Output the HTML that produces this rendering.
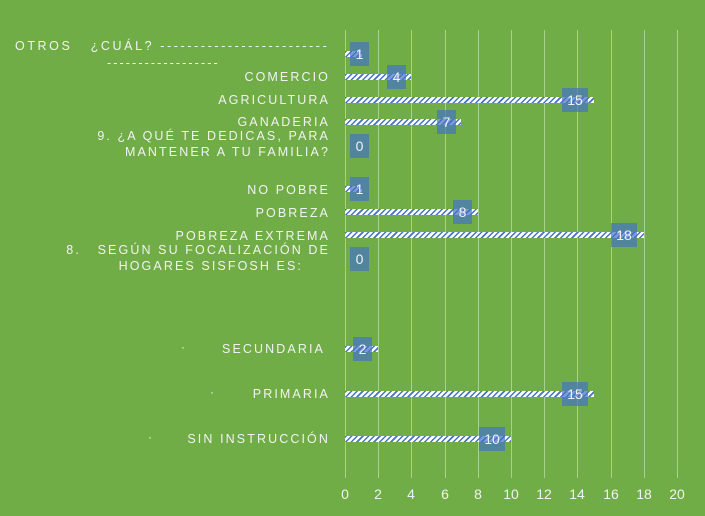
<!DOCTYPE html>
<html><head><meta charset="utf-8"><style>
body{margin:0;width:705px;height:516px;background:#70ad47;position:relative;overflow:hidden;font-family:"Liberation Sans",sans-serif;color:#f2f2f2}
.g{position:absolute;top:30px;height:448px;width:1px;background:#a9d18e}
.t{position:absolute;top:486px;font-size:14px;width:30px;text-align:center}
.l{position:absolute;right:375px;font-size:12.5px;letter-spacing:2.1px;text-align:right;white-space:nowrap;line-height:16px}
.d{position:absolute;font-size:12px}
.b{position:absolute;left:345px;height:6px;background:repeating-linear-gradient(135deg,#4472c4 0 1.5px,#fff 1.5px 4px)}
.v{position:absolute;width:19px;height:24px;background:rgba(68,114,196,.7);font-size:14px;text-align:center;line-height:24px}
</style></head><body>
<div class="g" style="left:345px"></div><div class="g" style="left:378px"></div><div class="g" style="left:411px"></div><div class="g" style="left:445px"></div><div class="g" style="left:478px"></div><div class="g" style="left:511px"></div><div class="g" style="left:544px"></div><div class="g" style="left:577px"></div><div class="g" style="left:611px"></div><div class="g" style="left:644px"></div><div class="g" style="left:677px"></div>
<div class="t" style="left:330px">0</div><div class="t" style="left:363px">2</div><div class="t" style="left:396px">4</div><div class="t" style="left:430px">6</div><div class="t" style="left:463px">8</div><div class="t" style="left:496px">10</div><div class="t" style="left:529px">12</div><div class="t" style="left:562px">14</div><div class="t" style="left:596px">16</div><div class="t" style="left:629px">18</div><div class="t" style="left:662px">20</div>

<div class="l" style="left:15px;right:auto;top:38px;text-align:left;letter-spacing:2.6px">OTROS &nbsp; ¿CUÁL? -------------------------</div>
<div class="l" style="left:107px;right:auto;top:55px;text-align:left">------------------</div>
<div class="l" style="top:69px">COMERCIO</div>
<div class="l" style="top:92px">AGRICULTURA</div>
<div class="l" style="top:114px">GANADERIA</div>
<div class="l" style="top:128px">9. ¿A QUÉ TE DEDICAS, PARA<br>MANTENER A TU FAMILIA?</div>
<div class="l" style="top:182px">NO POBRE</div>
<div class="l" style="top:205px">POBREZA</div>
<div class="l" style="top:228px">POBREZA EXTREMA</div>
<div class="l" style="top:242px">8.&nbsp;&nbsp; SEGÚN SU FOCALIZACIÓN DE</div>
<div class="l" style="top:258px;right:402px">HOGARES SISFOSH ES:</div>
<div class="d" style="left:181px;top:340px">·</div><div class="l" style="top:341px;right:380px">SECUNDARIA</div>
<div class="d" style="left:210px;top:385px">·</div><div class="l" style="top:386px">PRIMARIA</div>
<div class="d" style="left:148px;top:430px">·</div><div class="l" style="top:431px">SIN INSTRUCCIÓN</div>

<div class="b" style="top:51px;width:17px"></div><div class="v" style="left:350px;top:42px">1</div>
<div class="b" style="top:74px;width:66px"></div><div class="v" style="left:387px;top:65px">4</div>
<div class="b" style="top:97px;width:249px"></div><div class="v" style="left:562px;top:88px;width:26px">15</div>
<div class="b" style="top:119px;width:116px"></div><div class="v" style="left:437px;top:110px">7</div>
<div class="v" style="left:350px;top:134px">0</div>
<div class="b" style="top:186px;width:17px"></div><div class="v" style="left:350px;top:177px">1</div>
<div class="b" style="top:209px;width:133px"></div><div class="v" style="left:453px;top:200px">8</div>
<div class="b" style="top:232px;width:299px"></div><div class="v" style="left:611px;top:223px;width:26px">18</div>
<div class="v" style="left:350px;top:247px">0</div>
<div class="b" style="top:346px;width:33px"></div><div class="v" style="left:353px;top:337px">2</div>
<div class="b" style="top:391px;width:249px"></div><div class="v" style="left:562px;top:382px;width:26px">15</div>
<div class="b" style="top:436px;width:166px"></div><div class="v" style="left:479px;top:427px;width:26px">10</div>
</body></html>
